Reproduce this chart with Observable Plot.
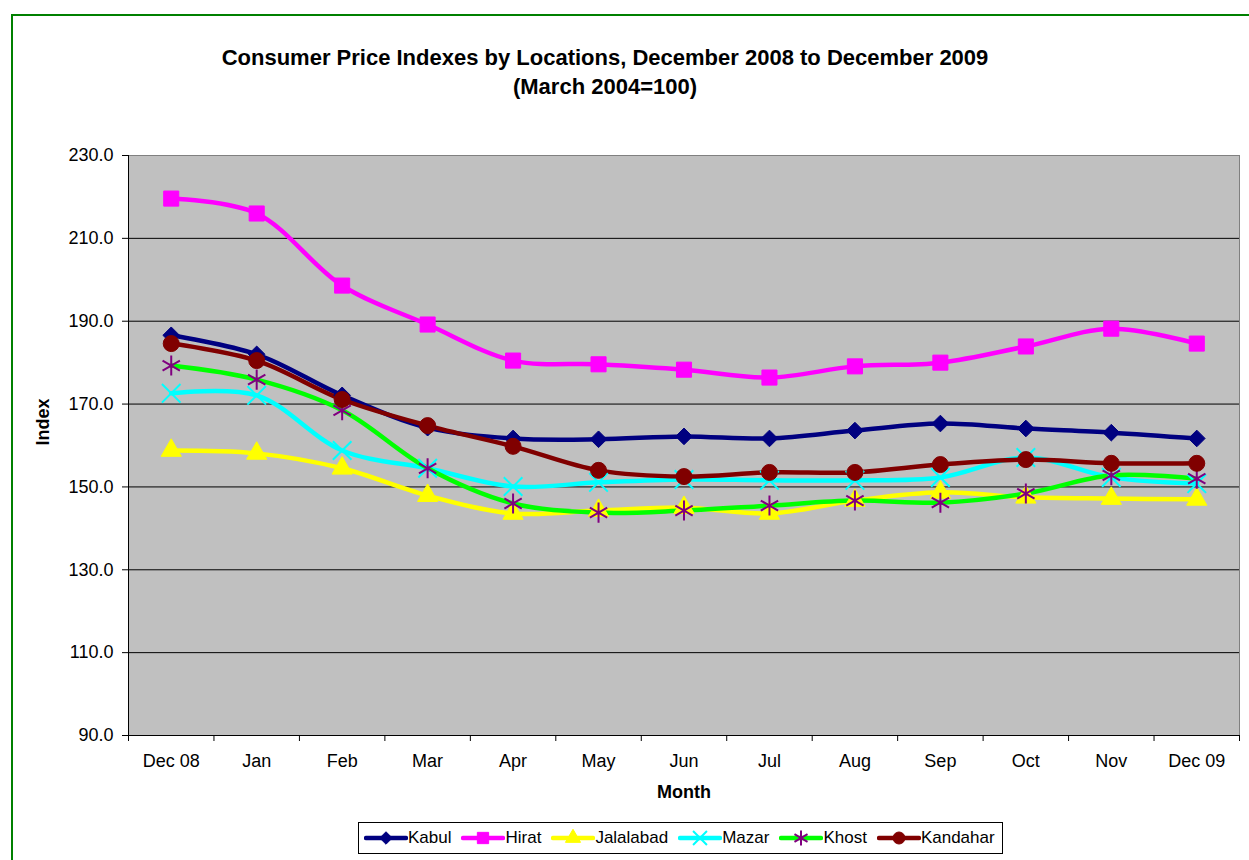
<!DOCTYPE html>
<html>
<head>
<meta charset="utf-8">
<script src="https://cdn.jsdelivr.net/npm/d3@7"></script>
<script src="https://cdn.jsdelivr.net/npm/@observablehq/plot@0.6"></script>
<style>
  html, body { margin: 0; padding: 0; background: #fff; overflow: hidden; }
  body { width: 1249px; height: 860px; position: relative; font-family: "Liberation Sans", Arial, sans-serif; }
  #border { position: absolute; left: 11px; top: 14px; width: 1300px; height: 900px; border: 2px solid #008000; box-sizing: border-box; }
  #title { position: absolute; left: 0; top: 43px; width: 1210px; text-align: center; font-weight: bold; font-size: 22px; line-height: 29px; color: #000; }
  #chart { position: absolute; left: 0; top: 120px; }
  #legend { position: absolute; left: 358px; top: 822px; width: 645px; height: 32px; box-sizing: border-box; border: 1px solid #000; background: #fff; display: flex; align-items: center; padding-left: 5px; overflow: hidden; }
  .item { display: flex; align-items: center; margin-right: 10px; font-size: 17px; white-space: nowrap; }
  .item svg { display: block; }
</style>
</head>
<body>
<div id="border"></div>
<div id="title">Consumer Price Indexes by Locations, December 2008 to December 2009<br>(March 2004=100)</div>
<div id="chart"></div>
<div id="legend"></div>
<script>
const months = ["Dec 08","Jan","Feb","Mar","Apr","May","Jun","Jul","Aug","Sep","Oct","Nov","Dec 09"];
const kabul     = [186.6,182.0,172.1,164.3,161.7,161.5,162.2,161.7,163.6,165.3,164.1,163.1,161.7];
const hirat     = [219.6,216.0,198.6,189.2,180.5,179.6,178.3,176.4,179.1,180.0,183.9,188.2,184.6];
const jalalabad = [158.8,158.1,154.5,147.9,143.6,144.3,145.0,143.6,146.7,148.7,147.5,147.2,147.0];
const mazar     = [172.6,172.1,158.8,154.5,150.1,151.1,151.8,151.6,151.6,152.3,157.1,152.3,150.8];
const khost     = [179.3,175.9,168.5,154.5,146.0,143.8,144.3,145.5,146.7,146.2,148.4,152.8,152.0];
const kandahar  = [184.6,180.5,171.1,164.8,159.8,154.0,152.5,153.5,153.5,155.4,156.6,155.7,155.7];
const yTicks = [90,110,130,150,170,190,210,230];

const series = [
  {name: "Kabul",     values: kabul,     line: "#000080", symbol: "diamond2", fill: "#000080", stroke: "#000080", r: 7.5, sw: 1},
  {name: "Hirat",     values: hirat,     line: "#FF00FF", symbol: "square",   fill: "#FF00FF", stroke: "#FF00FF", r: 8.5, sw: 1},
  {name: "Jalalabad", values: jalalabad, line: "#FFFF00", symbol: "triangle", fill: "#FFFF00", stroke: "#FFFF00", r: 7.5, sw: 1},
  {name: "Mazar",     values: mazar,     line: "#00FFFF", symbol: "times",    fill: "none",    stroke: "#00FFFF", r: 8.5, sw: 2},
  {name: "Khost",     values: khost,     line: "#00FF00", symbol: "asterisk", fill: "none",    stroke: "#800080", r: 9.5, sw: 2},
  {name: "Kandahar",  values: kandahar,  line: "#800000", symbol: "circle",   fill: "#800000", stroke: "#800000", r: 8, sw: 1}
];

const rows = series.flatMap(s => s.values.map((v, i) => ({series: s.name, i, v})));

const marks = [
  Plot.frame({fill: "#C0C0C0", stroke: "#808080"}),
  Plot.ruleY(yTicks.slice(1, -1), {stroke: "#000", strokeWidth: 1}),
  Plot.ruleY([90], {stroke: "#000"}),
  Plot.ruleX([-0.5], {stroke: "#000"}),
  Plot.axisY({ticks: yTicks, tickFormat: d => d.toFixed(1), tickSize: 6, tickPadding: 9, label: null, fontSize: 18}),
  Plot.axisX({ticks: d3.range(13), tickFormat: i => months[i], tickSize: 0, tickPadding: 19, label: null, fontSize: 18}),
  Plot.axisX({ticks: d3.range(-0.5, 13, 1), tickFormat: () => "", tickSize: 6, label: null}),
  Plot.text(["Index"], {frameAnchor: "left", dx: -85, rotate: -90, fontWeight: "bold", fontSize: 18}),
  Plot.text(["Month"], {frameAnchor: "bottom", dy: 62, fontWeight: "bold", fontSize: 18}),
];
for (const s of series) {
  const d = rows.filter(r => r.series === s.name);
  marks.push(Plot.line(d, {x: "i", y: "v", stroke: s.line, strokeWidth: 4.5, curve: "catmull-rom"}));
}
for (const s of series) {
  const d = rows.filter(r => r.series === s.name);
  marks.push(Plot.dot(d, {x: "i", y: "v", symbol: s.symbol, fill: s.fill, stroke: s.stroke, strokeWidth: s.sw, r: s.r}));
}

const chart = Plot.plot({
  width: 1249,
  height: 700,
  marginLeft: 128,
  marginRight: 10,
  marginTop: 35,
  marginBottom: 85,
  style: {fontFamily: "'Liberation Sans', Arial, sans-serif", fontSize: "18px", color: "#000", background: "transparent"},
  x: {domain: [-0.5, 12.5], axis: null},
  y: {domain: [90, 230], axis: null},
  marks
});
document.getElementById("chart").appendChild(chart);

// Legend
const legend = d3.select("#legend");
const symMap = {diamond2: d3.symbolDiamond2, square: d3.symbolSquare, triangle: d3.symbolTriangle, times: d3.symbolTimes, asterisk: d3.symbolAsterisk, circle: d3.symbolCircle};
for (const s of series) {
  const it = legend.append("div").attr("class", "item");
  const svg = it.append("svg").attr("width", 44).attr("height", 20);
  svg.append("line").attr("x1", 2).attr("x2", 42).attr("y1", 10).attr("y2", 10)
    .attr("stroke", s.line).attr("stroke-width", 4.5).attr("stroke-linecap", "round");
  svg.append("path").attr("transform", "translate(22,10)")
    .attr("d", d3.symbol(symMap[s.symbol], Math.PI * (s.r * 0.75) ** 2)())
    .attr("fill", s.fill).attr("stroke", s.stroke).attr("stroke-width", s.sw);
  it.append("span").text(s.name);
}
</script>
</body>
</html>
